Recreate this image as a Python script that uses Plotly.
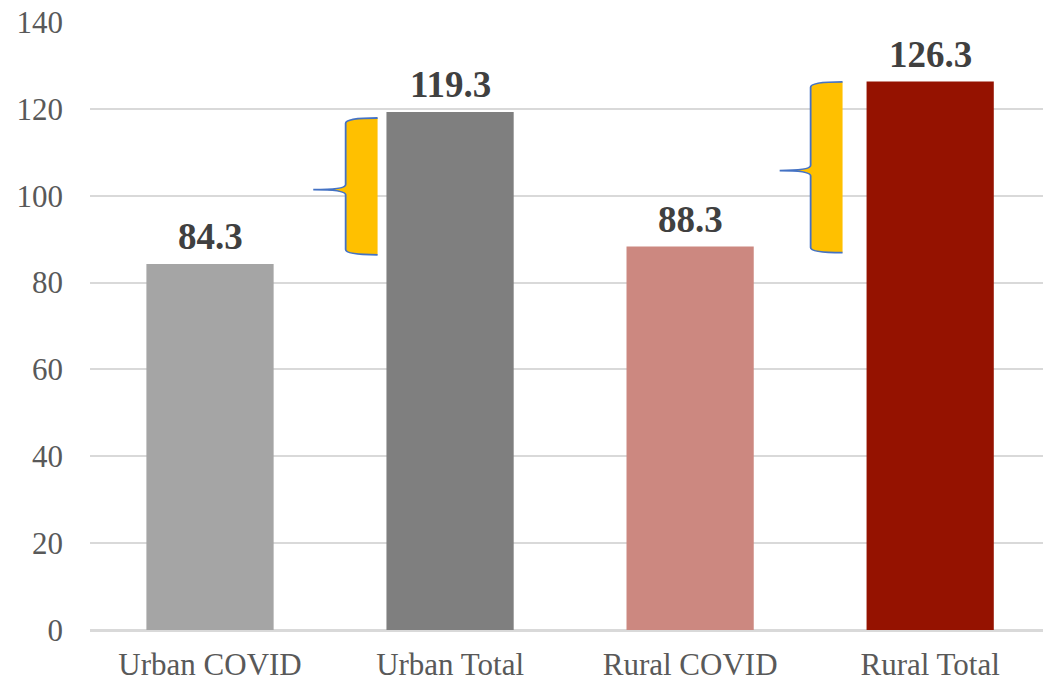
import plotly.graph_objects as go

categories = ["Urban COVID", "Urban Total", "Rural COVID", "Rural Total"]
values = [84.3, 119.3, 88.3, 126.3]
labels = ["84.3", "119.3", "88.3", "126.3"]
bar_colors = ["#A5A5A5", "#7F7F7F", "#CC8880", "#951200"]
y_ticks = [0, 20, 40, 60, 80, 100, 120, 140]

# braces: (x tip, x vertical, x right, y top, y tip, y bottom)
braces = [
    (0.43, 0.565, 0.698, 117.9, 101.4, 86.4),
    (2.373, 2.502, 2.635, 126.2, 105.8, 86.9),
]

x_pos = list(range(len(categories)))

fig = go.Figure()
fig.add_trace(go.Bar(
    x=x_pos, y=values, marker=dict(color=bar_colors, line=dict(width=0)),
    width=0.53, hoverinfo="skip", showlegend=False,
))

for xv_i, v, t in zip(x_pos, values, labels):
    fig.add_annotation(x=xv_i, y=v, text="<b>%s</b>" % t, showarrow=False,
                       yanchor="bottom", yshift=5,
                       font=dict(family="Liberation Serif, Times New Roman, serif", size=37, color="#404040"))

d = 1.2
for (xt, xv, xr, yt, ym, yb) in braces:
    path = (f"M {xr},{yt} Q {xv},{yt} {xv},{yt-d} L {xv},{ym+d} Q {xv},{ym} {xt},{ym} "
            f"Q {xv},{ym} {xv},{ym-d} L {xv},{yb+d} Q {xv},{yb} {xr},{yb} Z")
    fig.add_shape(type="path", path=path, xref="x", yref="y",
                  fillcolor="#FFC000", line=dict(width=0), layer="above")
    path2 = (f"M {xr},{yt} Q {xv},{yt} {xv},{yt-d} L {xv},{ym+d} Q {xv},{ym} {xt},{ym} "
             f"Q {xv},{ym} {xv},{ym-d} L {xv},{yb+d} Q {xv},{yb} {xr},{yb}")
    fig.add_shape(type="path", path=path2, xref="x", yref="y",
                  fillcolor="rgba(0,0,0,0)", line=dict(width=1.8, color="#4472C4"), layer="above")

fig.update_layout(
    width=1043, height=682,
    margin=dict(l=90, r=0, t=22, b=48),
    paper_bgcolor="white", plot_bgcolor="white",
)
fig.update_xaxes(
    range=[-0.5, 3.47], tickmode="array", tickvals=x_pos, ticktext=categories,
    showgrid=False, showline=True, linecolor="#D9D9D9", linewidth=1.5,
    ticks="", ticklabelstandoff=6,
    tickfont=dict(family="Liberation Serif, Times New Roman, serif", size=31, color="#595959"),
)
fig.update_yaxes(
    range=[0, 140], tickmode="array", tickvals=y_ticks,
    showgrid=True, gridcolor="#D9D9D9", gridwidth=1.5,
    zeroline=True, zerolinecolor="#D9D9D9", zerolinewidth=1.5,
    showline=False, ticks="", ticklabelstandoff=26,
    tickfont=dict(family="Liberation Serif, Times New Roman, serif", size=31, color="#595959"),
)

fig.write_html("out.html", config={"displayModeBar": False},
               post_script="document.body.style.margin='0';")
